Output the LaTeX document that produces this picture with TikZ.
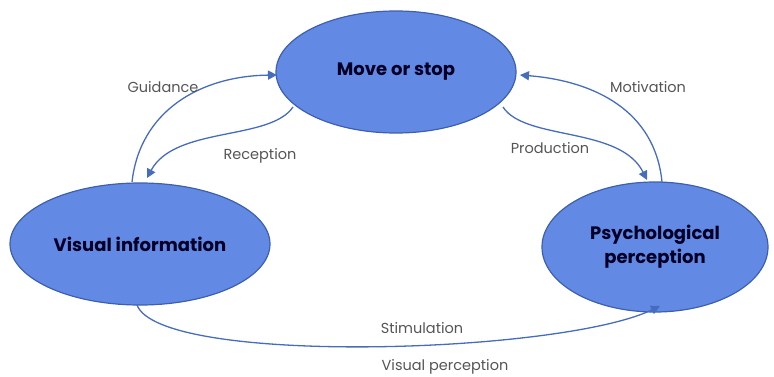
\documentclass[tikz,border=0pt]{standalone}
\usepackage{fontspec}
\setmainfont{Poppins}
\usetikzlibrary{shapes.geometric,arrows.meta}
\definecolor{stagefill}{RGB}{98,137,228}
\definecolor{stageline}{RGB}{60,95,175}
\definecolor{linkcol}{RGB}{70,108,190}
\definecolor{tagcol}{RGB}{85,85,85}
\begin{document}
\begin{tikzpicture}
    [x=1pt,y=1pt,
    stage/.style={ellipse,draw=stageline,line width=1.2pt,fill=stagefill,
      font=\fontsize{18}{24}\selectfont\bfseries,text=black!85!blue,align=center,inner sep=0pt},
    tag/.style={font=\fontsize{14.5}{16}\selectfont,text=tagcol},
    link/.style={draw=linkcol,line width=1.3pt,-{Triangle[length=9pt,width=9pt]}}]
    \useasboundingbox (0,0) rectangle (774,376);
    \node[stage,minimum width=240pt,minimum height=122pt] (move) at (396,304) {Move or stop};
    \node[stage,minimum width=260pt,minimum height=122pt] (visual) at (140,132) {Visual information};
    \node[stage,minimum width=226pt,minimum height=130pt] (psycho) at (655,129) {Psychological\\perception};
    \coordinate (vtop) at (132,194);
    \coordinate (vtip) at (147,198);
    \coordinate (ptip) at (647,196);
    \coordinate (ptop) at (662,194);
    \coordinate (mwest) at (277,301);
    \coordinate (meast) at (520,301);
    \coordinate (mlowl) at (293,269);
    \coordinate (mlowr) at (503,269);
    \coordinate (vbot) at (137,71);
    \coordinate (pbot) at (660,70);
    % connectors
    \draw[link] (vtop) .. controls (140,265) and (200,300) .. (mwest);
    \draw[link] (mlowl) .. controls (270,235) and (175,250) .. (vtip);
    \draw[link] (mlowr) .. controls (525,235) and (620,250) .. (ptip);
    \draw[link] (ptop) .. controls (655,265) and (595,295) .. (meast);
    \draw[link] (vbot) .. controls (160,10) and (560,22) .. (pbot);
    % labels
    \node[tag] (guid) at (163,289) {Guidance};
    \node[tag] (recep) at (260,220) {Reception};
    \node[tag] (prod) at (550,228) {Production};
    \node[tag] (motiv) at (648,289) {Motivation};
    \node[tag] (stim) at (422,48) {Stimulation};
    \node[tag] (visper) at (445,9) {Visual perception};
\end{tikzpicture}
\end{document}
